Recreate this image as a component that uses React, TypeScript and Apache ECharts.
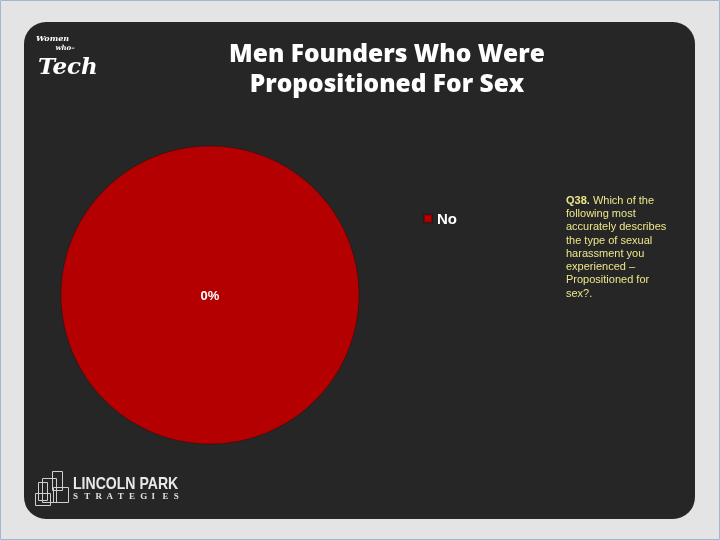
import React, { useEffect, useRef } from "react";
import * as echarts from "echarts";

const categories = ["No"];
const values = [0];
const sliceColors = ["#b40000"];
const titleLines = ["Men Founders Who Were", "Propositioned For Sex"];
const noteLines = [
  "Which of the",
  "following most",
  "accurately describes",
  "the type of sexual",
  "harassment you",
  "experienced \u2013",
  "Propositioned for",
  "sex?.",
];
const noteLead = "Q38.";
const strategiesLetters = ["S", "T", "R", "A", "T", "E", "G", "I", "E", "S"];

export default function App() {
  const ref = useRef<HTMLDivElement>(null);

  useEffect(() => {
    if (!ref.current) return;
    const chart = echarts.init(ref.current, null, { renderer: "svg" });

    const noteText =
      "{b|" + noteLead + "} " + noteLines[0] + "\n" + noteLines.slice(1).join("\n");

    const logoRects = [
      [52, 471, 10, 19],
      [42, 478, 14, 24],
      [38, 482, 9, 18],
      [53, 487, 15, 15],
      [35, 493, 15, 12],
    ];

    const titleFont = "800 24.5px 'Open Sans', sans-serif";

    const graphic: any[] = [
      {
        type: "rect",
        z: -10,
        silent: true,
        shape: { x: 0.5, y: 0.5, width: 719, height: 539 },
        style: { fill: "#e4e4e4", stroke: "#a2b6d4", lineWidth: 1 },
      },
      {
        type: "rect",
        z: -9,
        silent: true,
        shape: { x: 24, y: 22, width: 671, height: 497, r: 22 },
        style: { fill: "#262626" },
      },
      {
        type: "text",
        x: 387,
        y: 37,
        style: {
          text: titleLines.join("\n"),
          fill: "#ffffff",
          font: titleFont,
          lineHeight: 30,
          textAlign: "center",
          textVerticalAlign: "top",
        },
      },
      {
        type: "text",
        x: 566,
        y: 193,
        style: {
          text: noteText,
          fill: "#ece68a",
          font: "11px 'Liberation Sans', Arial, sans-serif",
          lineHeight: 13.3,
          rich: {
            b: {
              fill: "#ece68a",
              font: "bold 11px 'Liberation Sans', Arial, sans-serif",
              lineHeight: 13.3,
            },
          },
        },
      },
      // Women Who Tech logo
      {
        type: "text",
        x: 36,
        y: 33,
        style: {
          text: "{a|Women}\n{b|        who\u2013}\n{c|Tech}",
          fill: "#ffffff",
          rich: {
            a: {
              fill: "#ffffff",
              font: "italic bold 8px 'DejaVu Serif', serif",
              lineHeight: 10,
            },
            b: {
              fill: "#ffffff",
              font: "italic bold 7px 'DejaVu Serif', serif",
              lineHeight: 9,
            },
            c: {
              fill: "#ffffff",
              font: "italic bold 23px 'DejaVu Serif', serif",
              lineHeight: 26,
              padding: [0, 0, 0, 2],
            },
          },
        },
      },
      // Lincoln Park logo
      ...logoRects.map((r) => ({
        type: "rect",
        shape: { x: r[0] + 0.5, y: r[1] + 0.5, width: r[2], height: r[3] },
        style: { fill: "none", stroke: "#cfcfcf", lineWidth: 1 },
      })),
      {
        type: "text",
        x: 73,
        y: 475,
        scaleX: 0.88,
        style: {
          text: "LINCOLN PARK",
          fill: "#e8e8e8",
          font: "bold 16px 'Liberation Sans', sans-serif",
        },
      },
      ...strategiesLetters.map((ch, i) => ({
        type: "text",
        x: 73 + i * 11.2,
        y: 491,
        style: {
          text: ch,
          fill: "#e0e0e0",
          font: "bold 9px 'Liberation Serif', serif",
        },
      })),
    ];

    chart.setOption({
      animation: false,
      backgroundColor: "transparent",
      color: sliceColors,
      graphic,
      legend: {
        left: 418,
        top: 206,
        orient: "vertical",
        icon: "rect",
        itemWidth: 8,
        itemHeight: 8,
        data: categories,
        textStyle: {
          color: "#ffffff",
          fontWeight: "bold",
          fontSize: 15,
          fontFamily: "'Liberation Sans', Arial, sans-serif",
        },
      },
      series: [
        {
          type: "pie",
          center: [210, 295],
          radius: 149,
          stillShowZeroSum: true,
          startAngle: 90,
          label: {
            show: true,
            position: "center",
            color: "#ffffff",
            fontWeight: "bold",
            fontSize: 13,
            fontFamily: "'Liberation Sans', Arial, sans-serif",
            formatter: (p: any) => `${p.value}%`,
          },
          labelLine: { show: false },
          itemStyle: { borderColor: "rgba(0,0,0,0.25)", borderWidth: 1 },
          emphasis: { disabled: true },
          data: categories.map((c, i) => ({ name: c, value: values[i] })),
        },
      ],
    });

    return () => chart.dispose();
  }, []);

  return (
    <div
      ref={ref}
      style={{ position: "fixed", left: 0, top: 0, width: 720, height: 540 }}
    />
  );
}
